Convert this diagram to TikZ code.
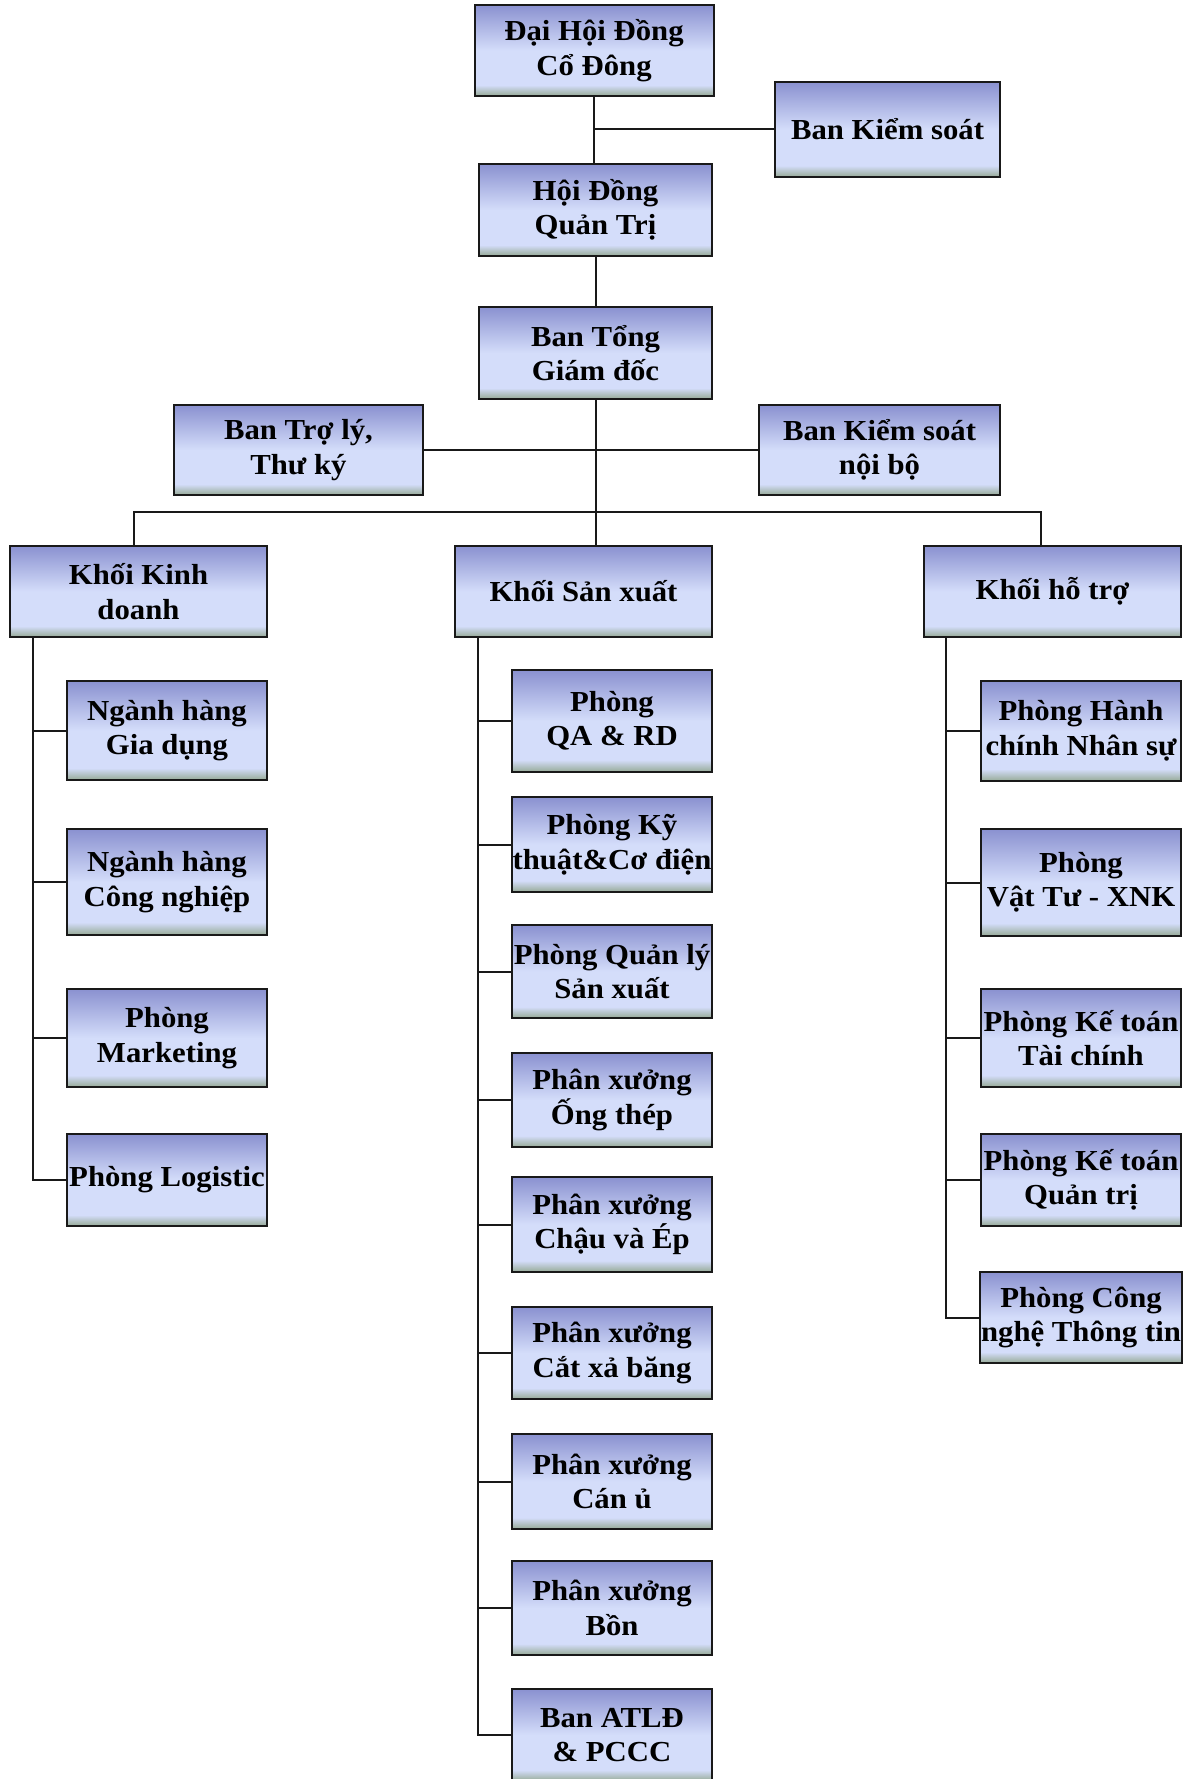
\documentclass[tikz,border=0pt]{standalone}
\usepackage{fontspec}
\setmainfont{Liberation Serif}[FakeStretch=1.06]
\definecolor{hoptop}{RGB}{138,145,208}
\definecolor{hopmid}{RGB}{212,221,250}
\definecolor{hopbot}{RGB}{150,170,150}
\pgfdeclareverticalshading{hopshade}{100bp}{color(0bp)=(hopbot); color(25bp)=(hopbot); color(31bp)=(hopmid); color(50bp)=(hopmid); color(75bp)=(hoptop); color(100bp)=(hoptop)}

\begin{document}
\begin{tikzpicture}[x=1pt,y=-1pt,
  hop/.style={draw=black!90,line width=2pt,shading=hopshade,inner sep=1pt,align=center,
    font=\fontsize{29}{34.5}\selectfont\bfseries},
  hopcol/.style={hop,minimum width=200pt},
  con/.style={line width=2pt,draw=black!90}]
\fill[white] (0,0) rectangle (1191,1779);
\useasboundingbox (0,0) rectangle (1191,1779);
\path
  coordinate (bus) at (595,512)
  ;
\node[hop,minimum width=239pt,minimum height=91pt] (dhcd) at (594,50.5) {Đại Hội Đồng\\Cổ Đông};
\node[hop,minimum width=225pt,minimum height=95pt] (bks) at (887.5,129.5) {Ban Kiểm soát};
\node[hop,minimum width=233pt,minimum height=92pt] (hdqt) at (595.5,210) {Hội Đồng\\Quản Trị};
\node[hop,minimum width=233pt,minimum height=92pt] (btgd) at (595.5,353) {Ban Tổng\\Giám đốc};
\node[hop,minimum width=249pt,minimum height=90pt] (btl) at (298.5,450) {Ban Trợ lý,\\Thư ký};
\node[hop,minimum width=241pt,minimum height=90pt] (bksnb) at (879.5,450) {Ban Kiểm soát\\nội bộ};
\node[hop,minimum width=257pt,minimum height=91pt] (kkd) at (138.5,591.5) {Khối Kinh\\doanh};
\node[hop,minimum width=257pt,minimum height=91pt] (ksx) at (583.5,591.5) {Khối Sản xuất};
\node[hop,minimum width=257pt,minimum height=91pt] (kht) at (1052.5,591.5) {Khối hỗ trợ};
\node[hopcol,minimum height=99pt] (gd) at (167,730.5) {Ngành hàng\\Gia dụng};
\node[hopcol,minimum height=106pt] (cn) at (167,882) {Ngành hàng\\Công nghiệp};
\node[hopcol,minimum height=98pt] (mk) at (167,1038) {Phòng\\Marketing};
\node[hopcol,minimum height=92pt] (lg) at (167,1180) {Phòng Logistic};
\node[hopcol,minimum height=102pt] (qa) at (612,721) {Phòng\\QA \& RD};
\node[hopcol,minimum height=95pt] (kt) at (612,844.5) {Phòng Kỹ\\thuật\&Cơ điện};
\node[hopcol,minimum height=93pt] (ql) at (612,971.5) {Phòng Quản lý\\Sản xuất};
\node[hopcol,minimum height=94pt] (ot) at (612,1100) {Phân xưởng\\Ống thép};
\node[hopcol,minimum height=95pt] (ce) at (612,1224.5) {Phân xưởng\\Chậu và Ép};
\node[hopcol,minimum height=92pt] (cx) at (612,1353) {Phân xưởng\\Cắt xả băng};
\node[hopcol,minimum height=95pt] (cu) at (612,1481.5) {Phân xưởng\\Cán ủ};
\node[hopcol,minimum height=94pt] (bo) at (612,1608) {Phân xưởng\\Bồn};
\node[hopcol,minimum height=92pt] (at) at (612,1735) {Ban ATLĐ\\\& PCCC};
\node[hopcol,minimum height=100pt] (hc) at (1081,731) {Phòng Hành\\chính Nhân sự};
\node[hopcol,minimum height=107pt] (vt) at (1081,882.5) {Phòng\\Vật Tư - XNK};
\node[hopcol,minimum height=98pt] (tc) at (1081,1038) {Phòng Kế toán\\Tài chính};
\node[hopcol,minimum height=92pt] (qt) at (1081,1180) {Phòng Kế toán\\Quản trị};
\node[hopcol,minimum height=91pt] (it) at (1081,1317.5) {Phòng Công\\nghệ Thông tin};
\draw[con] (dhcd.south) -- (dhcd.south |- hdqt.north);
\draw[con] (bks.west) -- (bks.west -| dhcd.south);
\draw[con] (hdqt.south) -- (btgd.north);
\draw[con] (btgd.south) -- (btgd.south |- ksx.north);
\draw[con] (btl.east) -- (bksnb.west);
\draw[con] ([xshift=-4.5pt]kkd.north) |- (bus) -| ([xshift=-11.5pt]kht.north);
\foreach \n in {gd,cn,mk,lg}
  \draw[con] ([xshift=24pt]kkd.south west) |- (\n.west);
\foreach \n in {qa,kt,ql,ot,ce,cx,cu,bo,at}
  \draw[con] ([xshift=24pt]ksx.south west) |- (\n.west);
\foreach \n in {hc,vt,tc,qt,it}
  \draw[con] ([xshift=23pt]kht.south west) |- (\n.west);
\end{tikzpicture}
\end{document}
